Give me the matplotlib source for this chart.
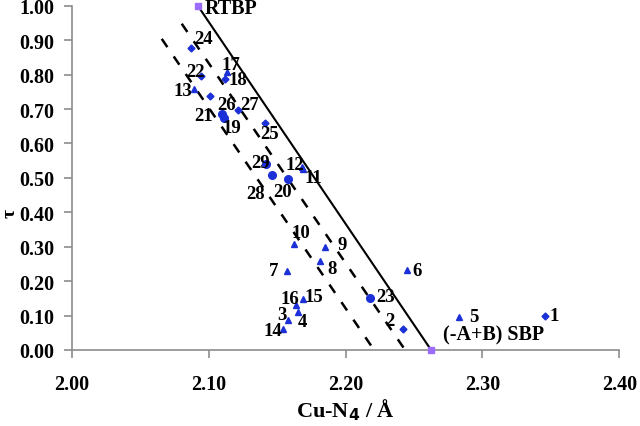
import matplotlib
matplotlib.use("Agg")
import matplotlib.pyplot as plt

plt.rcParams["font.family"] = ["Liberation Serif", "DejaVu Serif"]
plt.rcParams["font.weight"] = "bold"

# compound labels, Cu-N4 distance (A), tau
labels = ["1", "2", "3", "4", "5", "6", "7", "8", "9", "10",
          "11", "12", "13", "14", "15", "16", "17", "18", "19", "20",
          "21", "22", "23", "24", "25", "26", "27", "28", "29"]
cu_n4 = [2.346, 2.242, 2.158, 2.165, 2.283, 2.245, 2.157, 2.181, 2.185, 2.162,
         2.169, 2.168, 2.089, 2.154, 2.169, 2.164, 2.113, 2.112, 2.111, 2.158,
         2.110, 2.094, 2.218, 2.087, 2.141, 2.101, 2.121, 2.146, 2.142]
tau = [0.100, 0.061, 0.088, 0.110, 0.095, 0.231, 0.229, 0.260, 0.299, 0.308,
       0.526, 0.533, 0.759, 0.061, 0.148, 0.131, 0.809, 0.788, 0.675, 0.497,
       0.686, 0.797, 0.150, 0.877, 0.659, 0.737, 0.698, 0.509, 0.539]
shape = ["D", "D", "^", "^", "^", "^", "^", "^", "^", "^",
         "^", "^", "^", "^", "^", "^", "^", "D", "o", "o",
         "o", "D", "o", "D", "D", "D", "D", "o", "o"]

# ideal geometries
ref_names = ["RTBP", "(-A+B) SBP"]
ref_x = [2.092, 2.2625]
ref_y = [1.00, 0.00]

# dashed guide lines (end points)
guide1_x = [2.0656, 2.2208]
guide1_y = [0.904, 0.0]
guide2_x = [2.0802, 2.2435]
guide2_y = [0.948, 0.0]

# label offsets in pixels (dx right, dy up)
offsets = {"1": (9, 0), "2": (-13, 9), "3": (-6, 5), "4": (5, -9), "5": (15, 1),
           "6": (10, 0), "7": (-13, 1), "8": (12, -8), "9": (17, 3), "10": (7, 11),
           "11": (10, -9), "12": (-7, 2), "13": (-11, -2), "14": (-10, -1),
           "15": (11, 3), "16": (-6, 6), "17": (4, 7), "18": (13, -1),
           "19": (8, -10), "20": (-6, -13), "21": (-19, -2), "22": (-5, 4),
           "23": (15, 2), "24": (13, 10), "25": (5, -10), "26": (16, -8),
           "27": (12, 5), "28": (-16, -19), "29": (-6, 2)}

blue = "#1c30d8"
gray = "#8c8c8c"

fig = plt.figure(figsize=(6.4, 4.27), dpi=100)
ax = fig.add_axes([0.1125, 0.178, 0.855, 0.806])

ax.plot(ref_x, ref_y, color="black", lw=1.5, zorder=2)
ax.plot(guide1_x, guide1_y, color="black", lw=1.8, dashes=(4, 4.5), zorder=2)
ax.plot(guide2_x, guide2_y, color="black", lw=1.8, dashes=(4, 4.5), zorder=2)

sizes = {"D": 3.5, "^": 5, "o": 5.5}
for m in ["^", "D", "o"]:
    xs = [x for x, s in zip(cu_n4, shape) if s == m]
    ys = [y for y, s in zip(tau, shape) if s == m]
    ax.plot(xs, ys, ls="none", marker=m, ms=sizes[m], color=blue,
            mec=blue, zorder=3, clip_on=False)

ax.plot(ref_x, ref_y, ls="none", marker="s", ms=4.5, color="#9c6cff",
        mec="#9c6cff", zorder=4, clip_on=False)

for lab, x, y in zip(labels, cu_n4, tau):
    dx, dy = offsets[lab]
    ax.annotate(lab, (x, y), xytext=(dx, dy), textcoords="offset pixels",
                ha="center", va="center", fontsize=13.5, fontweight="bold",
                zorder=5)

ax.annotate(ref_names[0], (ref_x[0], ref_y[0]), xytext=(7, -2),
            textcoords="offset pixels", ha="left", va="center",
            fontsize=14.5, fontweight="bold")
ax.annotate(ref_names[1], (ref_x[1], ref_y[1]), xytext=(12, 16),
            textcoords="offset pixels", ha="left", va="center",
            fontsize=14.5, fontweight="bold")

ax.set_xlim(2.0, 2.4)
ax.set_ylim(0.0, 1.0)
ax.set_xticks([2.0, 2.1, 2.2, 2.3, 2.4])
ax.set_xticklabels(["2.00", "2.10", "2.20", "2.30", "2.40"])
ax.set_yticks([i / 10 for i in range(11)])
ax.set_yticklabels(["%.2f" % (i / 10) for i in range(11)])

for s in ["top", "right"]:
    ax.spines[s].set_visible(False)
for s in ["left", "bottom"]:
    ax.spines[s].set_color(gray)
    ax.spines[s].set_linewidth(1.2)
ax.tick_params(axis="both", direction="out", length=6, width=1.2,
               color=gray, labelsize=14.5)
ax.tick_params(axis="x", pad=11)
ax.tick_params(axis="y", pad=7)

ax.set_xlabel("Cu-N$_\\mathbf{4}$ / Å", fontsize=16, fontweight="bold", labelpad=2)
ax.set_ylabel("τ", fontsize=14, fontweight="bold")
ax.yaxis.set_label_coords(-0.098, 0.40)

fig.savefig("out.png", dpi=100)
